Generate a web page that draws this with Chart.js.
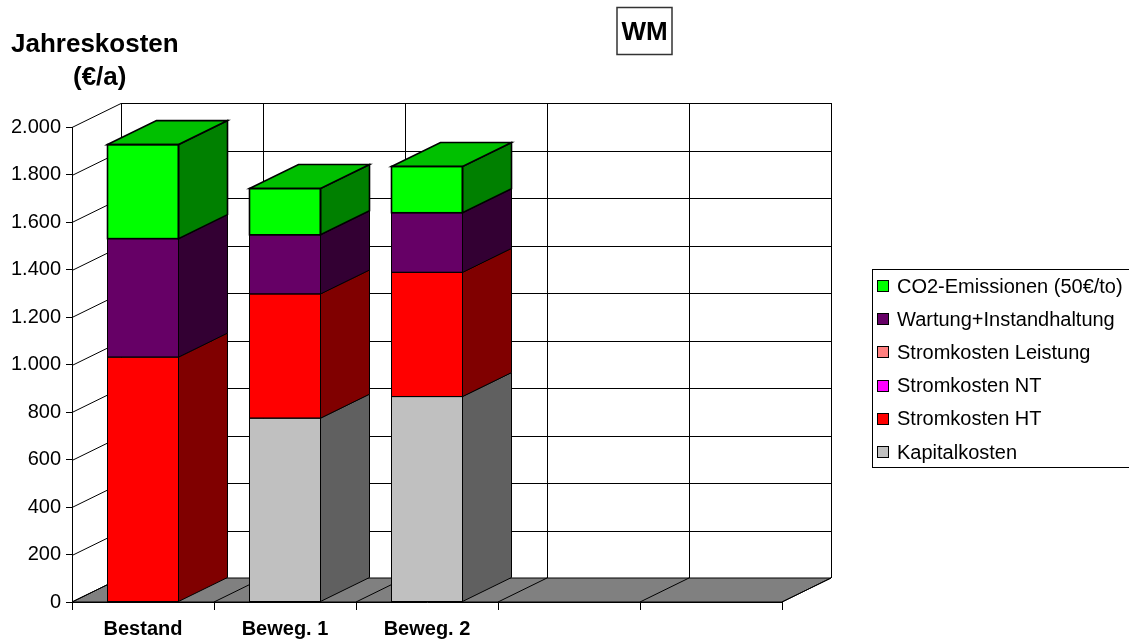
<!DOCTYPE html>
<html>
<head>
<meta charset="utf-8">
<script src="https://cdn.jsdelivr.net/npm/chart.js@4/dist/chart.umd.min.js"></script>
<style>
html,body{margin:0;padding:0;background:#fff;}
#wrap{width:1129px;height:642px;position:relative;}
</style>
</head>
<body>
<div id="wrap"><canvas id="c" width="1129" height="642"></canvas></div>
<script>
// ---- data ----
const categories = ['Bestand', 'Beweg. 1', 'Beweg. 2', '', ''];
const kapitalkosten       = [0,    774, 865, null, null];
const stromkostenHT       = [1031, 523, 523, null, null];
const stromkostenNT       = [0,    0,   0,   null, null];
const stromkostenLeistung = [0,    0,   0,   null, null];
const wartung             = [499,  249, 251, null, null];
const co2Emissionen       = [396,  195, 195, null, null];
const seriesLabels = ['Kapitalkosten', 'Stromkosten HT', 'Stromkosten NT', 'Stromkosten Leistung', 'Wartung+Instandhaltung', 'CO2-Emissionen (50€/to)'];
const yMin = 0, yMax = 2000, yStep = 200;
const titleLines = ['Jahreskosten', '(€/a)'];
const boxLabel = 'WM';

// ---- styles ----
const FONT = '"Liberation Sans", Arial, Helvetica, sans-serif';
const frontColors = ['#C0C0C0', '#FF0000', '#FF00FF', '#FF8080', '#660066', '#00FF00'];
const sideColors  = ['#606060', '#800000', '#800080', '#804040', '#330033', '#008000'];
const topColors   = ['#909090', '#C00000', '#C000C0', '#C06060', '#4C004C', '#00C000'];
const DX = 49, DY = -24;

const seriesData = [kapitalkosten, stromkostenHT, stromkostenNT, stromkostenLeistung, wartung, co2Emissionen];

function fmt(v) {
  if (v >= 1000) return Math.floor(v / 1000) + '.' + String(v % 1000).padStart(3, '0');
  return String(v);
}

function line(ctx, x1, y1, x2, y2) {
  ctx.beginPath(); ctx.moveTo(x1, y1); ctx.lineTo(x2, y2); ctx.stroke();
}
function poly(ctx, pts, fill, lw) {
  ctx.beginPath();
  ctx.moveTo(pts[0][0], pts[0][1]);
  for (let k = 1; k < pts.length; k++) ctx.lineTo(pts[k][0], pts[k][1]);
  ctx.closePath();
  if (fill) { ctx.fillStyle = fill; ctx.fill(); }
  ctx.lineWidth = lw || 1; ctx.strokeStyle = '#000'; ctx.stroke();
}

const threeD = {
  id: 'threeD',
  beforeDatasetsDraw(chart) {
    const ctx = chart.ctx;
    const L = chart.chartArea.left, R = chart.chartArea.right;
    const xs = chart.scales.x, ys = chart.scales.y;
    const B = ys.getPixelForValue(yMin), T = ys.getPixelForValue(yMax);
    ctx.save();
    ctx.strokeStyle = '#000'; ctx.lineWidth = 1;
    ctx.fillStyle = '#fff';
    ctx.fillRect(L + DX, T + DY, R - L, B - T);
    ys.ticks.forEach(t => {
      const p = Math.round(ys.getPixelForValue(t.value)) + 0.5;
      line(ctx, L, p, L + DX, p + DY);
      line(ctx, L + DX, p + DY, R + DX, p + DY);
    });
    for (let i = 0; i <= categories.length; i++) {
      const bx = Math.round(xs.getPixelForValue(i - 0.5)) + 0.5;
      line(ctx, bx + DX, T + DY, bx + DX, B + DY);
    }
    poly(ctx, [[L, B], [R, B], [R + DX, B + DY], [L + DX, B + DY]], '#808080', 1);
    for (let i = 0; i <= categories.length; i++) {
      const bx = xs.getPixelForValue(i - 0.5);
      line(ctx, bx, B, bx + DX, B + DY);
    }
    ctx.restore();
  },
  afterDatasetsDraw(chart) {
    const ctx = chart.ctx;
    ctx.save();
    const n = categories.length;
    for (let j = 0; j < n; j++) {
      let topIdx = -1;
      seriesData.forEach((arr, i) => { if (arr[j]) topIdx = i; });
      for (let i = 0; i < seriesData.length; i++) {
        const v = seriesData[i][j];
        if (!v) continue;
        const bar = chart.getDatasetMeta(i).data[j];
        const p = bar.getProps(['x', 'y', 'base', 'width'], true);
        const l = p.x - p.width / 2, r = p.x + p.width / 2;
        const top = p.y, bot = p.base;
        const lw = (i === topIdx) ? 1.6 : 1;
        poly(ctx, [[r, top], [r + DX, top + DY], [r + DX, bot + DY], [r, bot]], sideColors[i], lw);
        if (i === topIdx) {
          poly(ctx, [[l, top], [l + DX, top + DY], [r + DX, top + DY], [r, top]], topColors[i], lw);
        }
        ctx.lineWidth = lw; ctx.strokeStyle = '#000';
        ctx.strokeRect(l, top, r - l, bot - top);
      }
    }
    ctx.restore();
  },
  afterDraw(chart) {
    const ctx = chart.ctx;
    ctx.save();
    ctx.fillStyle = '#000';
    ctx.textBaseline = 'alphabetic';
    ctx.textAlign = 'left';
    ctx.font = 'bold 26px ' + FONT;
    ctx.fillText(titleLines[0], 11, 52);
    ctx.fillText(titleLines[1], 73, 85);
    ctx.lineWidth = 1.5; ctx.strokeStyle = '#333';
    ctx.strokeRect(617, 7.5, 55, 47);
    ctx.textAlign = 'center';
    ctx.fillText(boxLabel, 644.5, 40);
    ctx.lineWidth = 1; ctx.strokeStyle = '#000';
    ctx.strokeRect(872.5, 269.5, 300, 198);
    ctx.textAlign = 'left';
    ctx.font = '20px ' + FONT;
    const ds = chart.data.datasets;
    for (let k = 0; k < ds.length; k++) {
      const i = ds.length - 1 - k;
      const cy = 285.5 + k * 33.2;
      const ty = Math.round(cy - 5.5) + 0.5;
      ctx.fillStyle = ds[i].backgroundColor;
      ctx.fillRect(877.5, ty, 11, 11);
      ctx.strokeRect(877.5, ty, 11, 11);
      ctx.fillStyle = '#000';
      ctx.fillText(ds[i].label, 897, cy + 7);
    }
    ctx.restore();
  }
};

const datasets = seriesData.map((arr, i) => ({
  label: seriesLabels[i],
  data: arr,
  backgroundColor: frontColors[i],
  borderWidth: 0,
  categoryPercentage: 0.5,
  barPercentage: 1.0
}));

Chart.defaults.font.family = FONT;
new Chart(document.getElementById('c'), {
  type: 'bar',
  data: { labels: categories, datasets },
  options: {
    responsive: false,
    animation: false,
    devicePixelRatio: 1,
    layout: { padding: { top: 127, right: 347, bottom: 0, left: 0 } },
    plugins: { legend: { display: false }, tooltip: { enabled: false }, title: { display: false } },
    scales: {
      x: {
        stacked: true,
        offset: true,
        grid: { offset: true, drawOnChartArea: false, drawTicks: true, tickLength: 8, color: '#000' },
        border: { display: true, color: '#000' },
        ticks: { color: '#000', font: { size: 20, weight: 'bold' }, padding: 7, maxRotation: 0, autoSkip: false },
        afterFit(s) { s.height = 40; }
      },
      y: {
        stacked: true,
        min: yMin, max: yMax,
        ticks: { stepSize: yStep, color: '#000', font: { size: 20 }, padding: 5, callback: v => fmt(v) },
        grid: { drawOnChartArea: false, drawTicks: true, tickLength: 6, color: '#000' },
        border: { display: true, color: '#000' },
        afterFit(s) { s.width = 72; }
      }
    }
  },
  plugins: [threeD]
});
</script>
</body>
</html>
